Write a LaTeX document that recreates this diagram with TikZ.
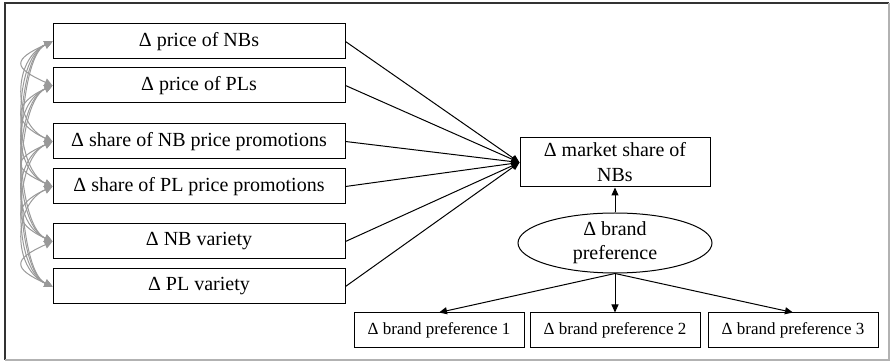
\documentclass[tikz,border=0pt]{standalone}
\usepackage{fontspec}
\setmainfont{Liberation Serif}
\usetikzlibrary{positioning, arrows.meta, shapes.geometric}

\begin{document}
\begin{tikzpicture}
[
    x=0.5pt, y=-0.5pt, on grid, line width=0.5pt,
    var_box/.style={rectangle, draw=black, minimum width=146pt, minimum height=17.5pt, inner sep=1pt, font=\fontsize{10}{12}\selectfont},
    ind_box/.style={rectangle, draw=black, minimum width=85pt, minimum height=17.5pt, inner sep=1pt, font=\fontsize{8.5}{10}\selectfont},
    dv_box/.style={rectangle, draw=black, minimum width=95pt, minimum height=24.5pt, inner sep=1pt, align=center, font=\fontsize{10}{12.5}\selectfont},
    latent_node/.style={ellipse, draw=black, minimum width=97pt, minimum height=30pt, inner sep=0pt, align=center, font=\fontsize{10}{12}\selectfont},
    path_arrow/.style={-{Triangle[length=4pt, width=3.5pt]}, line width=0.5pt, color=black},
    cov_arrow/.style={{Triangle[length=4pt, width=4pt]}-{Triangle[length=4pt, width=4pt]}, line width=0.5pt, color=black!40},
]
    \useasboundingbox (0,0) rectangle (891,363);
    \draw[black!80, line width=0.8pt] (5,360) -- (5,3) -- (889,3);
    \draw[black!30, line width=0.8pt] (5,360) -- (889,360) -- (889,3);
    \node[var_box] (v1) at (199,41.5) {Δ price of NBs} ;
    \node[var_box] (v2) [below = 22pt of v1] {Δ price of PLs} ;
    \node[var_box] (v3) [below = 28pt of v2] {Δ share of NB price promotions} ;
    \node[var_box] (v4) [below = 22.5pt of v3] {Δ share of PL price promotions} ;
    \node[var_box] (v5) [below = 27.5pt of v4] {Δ NB variety} ;
    \node[var_box] (v6) [below = 22.5pt of v5] {Δ PL variety} ;
    \node[dv_box] (ms) at (615,162.5) {Δ market share of\\NBs} ;
    \node[latent_node] (bp) [below = 40.25pt of ms] {Δ brand\\preference} ;
    \node[ind_box] (bp2) [below = 43.75pt of bp] {Δ brand preference 2} ;
    \node[ind_box] (bp1) [left = 88pt of bp2] {Δ brand preference 1} ;
    \node[ind_box] (bp3) [right = 89pt of bp2] {Δ brand preference 3} ;
    % covariances
    \foreach \i in {1,...,5} {
        \pgfmathtruncatemacro\nexti{\i+1}
        \foreach \j in {\nexti,...,6}
            \draw[cov_arrow] (v\i.west) .. controls +(-40,18) and +(-40,-18) .. (v\j.west) ;
    }
    \foreach \i in {1,...,6}
        \draw[path_arrow] (v\i.east) -- (ms.west) ;
    \draw[path_arrow] (bp.north) -- (ms.south) ;
    \draw[path_arrow] (bp.south) -- (bp1.north) ;
    \draw[path_arrow] (bp.south) -- (bp2.north) ;
    \draw[path_arrow] (bp.south) -- (bp3.north) ;
\end{tikzpicture}
\end{document}
